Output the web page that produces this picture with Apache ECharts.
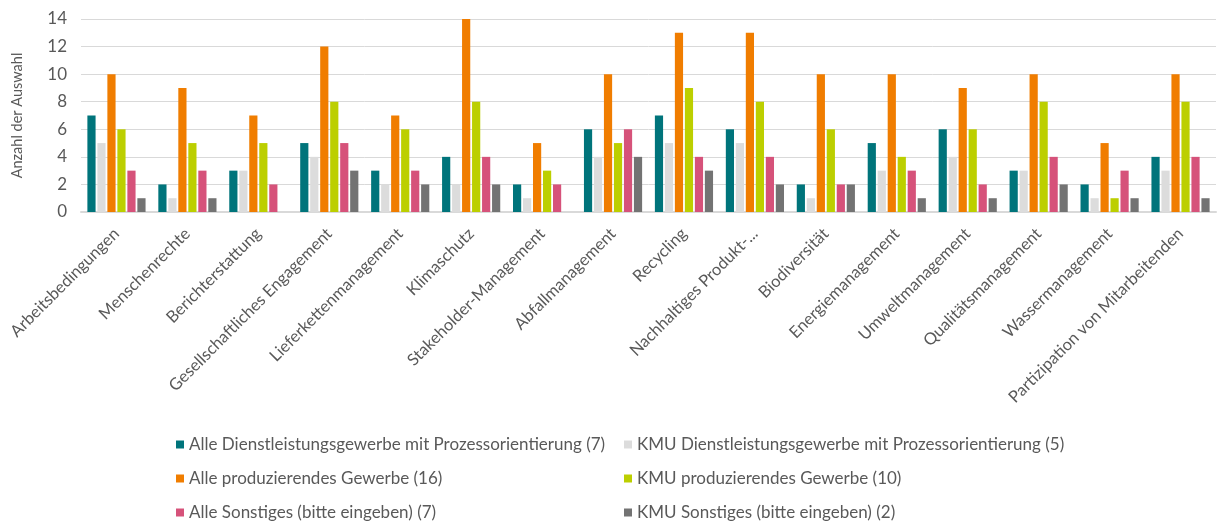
<!DOCTYPE html>
<html>
<head>
<meta charset="utf-8">
<script src="https://cdn.jsdelivr.net/npm/echarts@6/dist/echarts.min.js"></script>
<style>
  html, body { margin: 0; padding: 0; background: #fff; }
  #chart { width: 1217px; height: 525px; }
</style>
</head>
<body>
<div id="chart"></div>
<script>
// Kategorien (x-Achse)
var categories = [
  "Arbeitsbedingungen", "Menschenrechte", "Berichterstattung",
  "Gesellschaftliches Engagement", "Lieferkettenmanagement", "Klimaschutz",
  "Stakeholder-Management", "Abfallmanagement", "Recycling",
  "Nachhaltiges Produkt-...", "Biodiversität", "Energiemanagement",
  "Umweltmanagement", "Qualitätsmanagement", "Wassermanagement",
  "Partizipation von Mitarbeitenden"
];

var seriesNames = [
  "Alle Dienstleistungsgewerbe mit Prozessorientierung (7)",
  "KMU Dienstleistungsgewerbe mit Prozessorientierung (5)",
  "Alle produzierendes Gewerbe (16)",
  "KMU produzierendes Gewerbe (10)",
  "Alle Sonstiges (bitte eingeben) (7)",
  "KMU Sonstiges (bitte eingeben) (2)"
];

var alleDienst = [7, 2, 3, 5, 3, 4, 2, 6, 7, 6, 2, 5, 6, 3, 2, 4];
var kmuDienst  = [5, 1, 3, 4, 2, 2, 1, 4, 5, 5, 1, 3, 4, 3, 1, 3];
var alleProd   = [10, 9, 7, 12, 7, 14, 5, 10, 13, 13, 10, 10, 9, 10, 5, 10];
var kmuProd    = [6, 5, 5, 8, 6, 8, 3, 5, 9, 8, 6, 4, 6, 8, 1, 8];
var alleSonst  = [3, 3, 2, 5, 3, 4, 2, 6, 4, 4, 2, 3, 2, 4, 3, 4];
var kmuSonst   = [1, 1, 0, 3, 2, 2, 0, 4, 3, 2, 2, 1, 1, 2, 1, 1];

var yTicks = [0, 2, 4, 6, 8, 10, 12, 14];

var colors = ["#00747b", "#dcdcdc", "#f07d00", "#bccf00", "#d6527a", "#737373"];
var allData = [alleDienst, kmuDienst, alleProd, kmuProd, alleSonst, kmuSonst];

var chart = echarts.init(document.getElementById("chart"));

var series = seriesNames.map(function (name, i) {
  return {
    name: name,
    type: "bar",
    data: allData[i],
    barGap: "22%",
    barCategoryGap: "18%",
    itemStyle: { color: colors[i] }
  };
});

// Legende: zwei Spalten, drei Zeilen (je ein Eintrag pro Legende)
var legendCols = [176, 624];
var legendRows = [436, 470, 504];
var legends = seriesNames.map(function (name, i) {
  return {
    left: legendCols[i % 2],
    top: legendRows[Math.floor(i / 2)],
    padding: 0,
    icon: "rect", itemWidth: 8, itemHeight: 8,
    textStyle: { fontFamily: "Lato", fontSize: 17, color: "#595959" },
    data: [name]
  };
});

chart.setOption({
  animation: false,
  textStyle: { fontFamily: "Lato" },
  color: colors,
  grid: { left: 81, right: 1, top: 19, bottom: 313 },
  legend: legends,
  xAxis: {
    type: "category",
    data: categories,
    axisTick: { show: false },
    axisLine: { lineStyle: { color: "#d9d9d9", width: 2 } },
    axisLabel: {
      rotate: 45, interval: 0, margin: 19,
      fontFamily: "Lato", fontSize: 16.5, color: "#595959"
    }
  },
  yAxis: {
    type: "value",
    min: yTicks[0],
    max: yTicks[yTicks.length - 1],
    interval: 2,
    name: "Anzahl der Auswahl",
    nameLocation: "middle",
    nameGap: 56,
    nameTextStyle: { fontFamily: "Lato", fontSize: 14.5, color: "#595959" },
    axisLabel: { fontFamily: "Lato", fontSize: 17, color: "#595959", margin: 14 },
    splitLine: { lineStyle: { color: "#d9d9d9", width: 1 } }
  },
  series: series
});
</script>
</body>
</html>
